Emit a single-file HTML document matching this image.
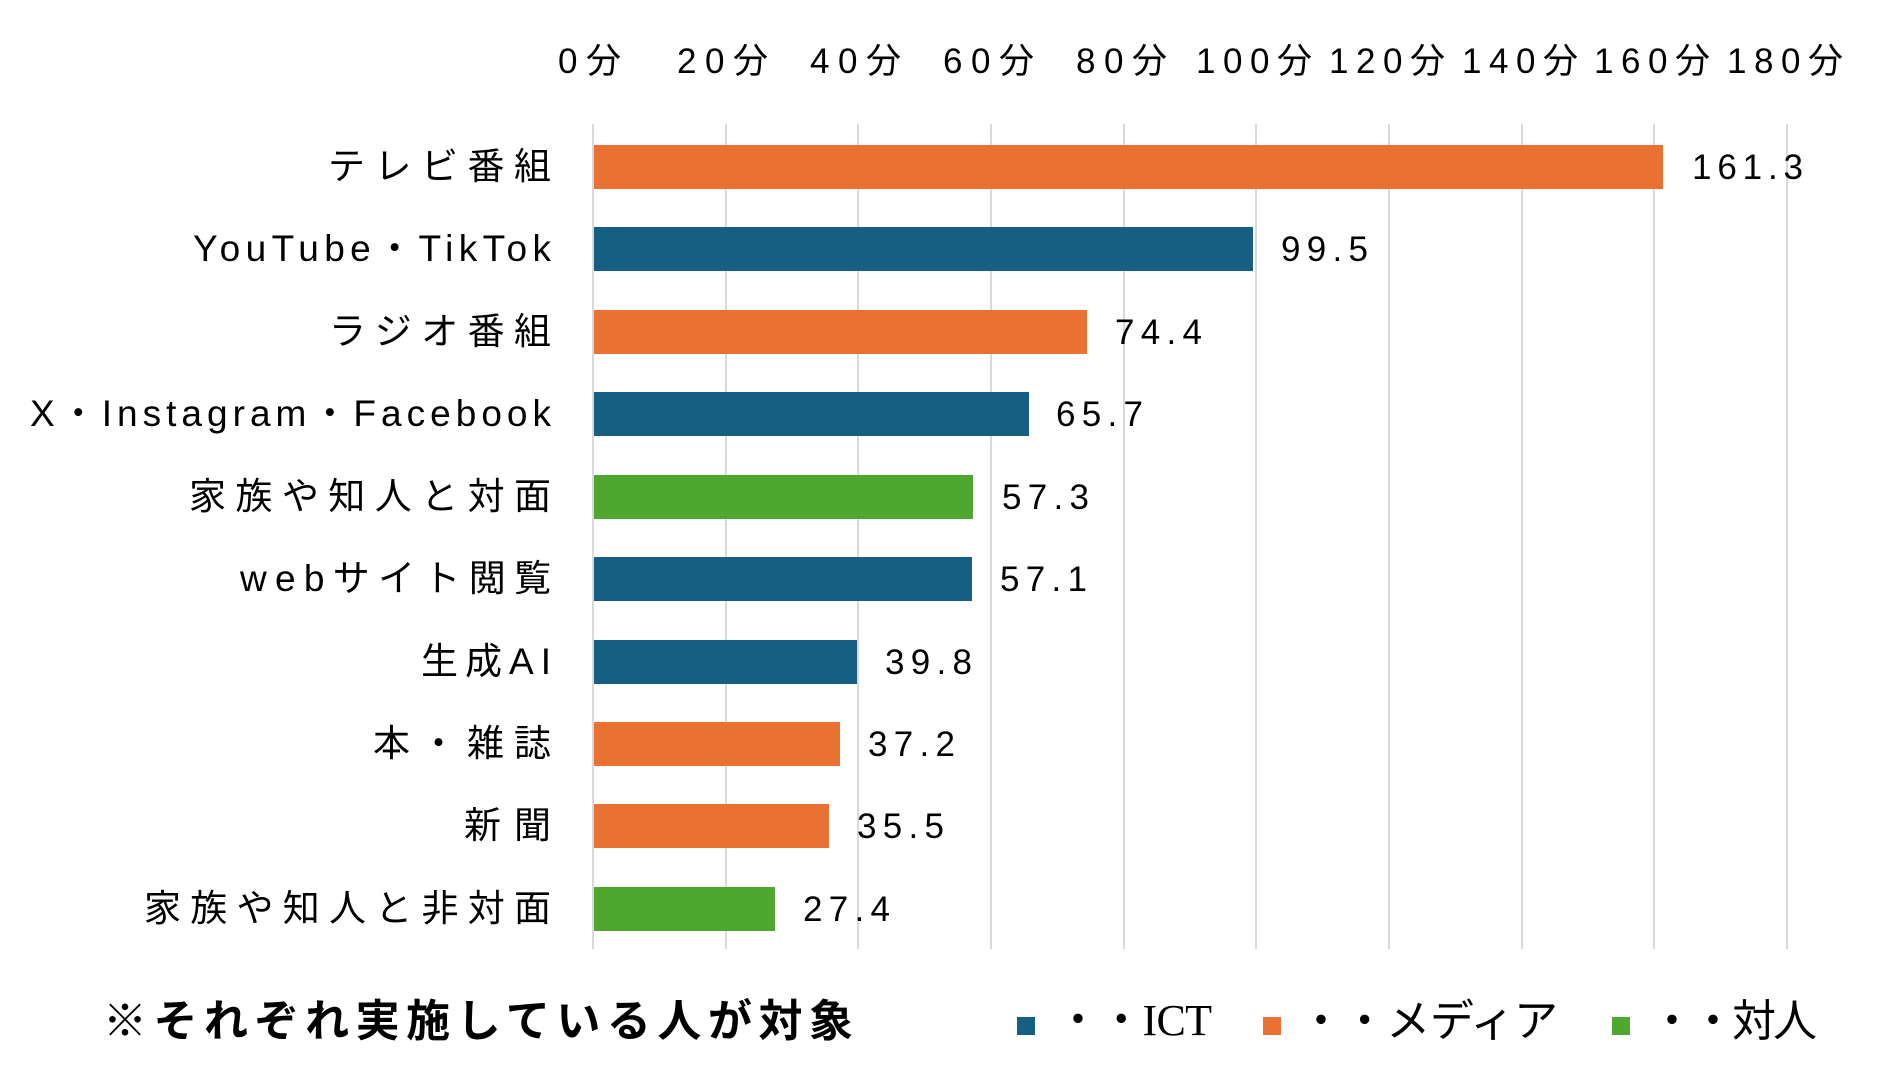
<!DOCTYPE html>
<html><head><meta charset="utf-8"><style>
html,body{margin:0;padding:0;background:#fff;}
svg{display:block;}
text{font-family:"Liberation Sans","Noto Sans CJK JP",sans-serif;fill:#000;}
</style></head><body>
<svg width="1890" height="1076" viewBox="0 0 1890 1076" xmlns="http://www.w3.org/2000/svg">
<g stroke="#d9d9d9" stroke-width="2">
<line x1="593" y1="124" x2="593" y2="949"/><line x1="726" y1="124" x2="726" y2="949"/><line x1="858" y1="124" x2="858" y2="949"/><line x1="991" y1="124" x2="991" y2="949"/><line x1="1124" y1="124" x2="1124" y2="949"/><line x1="1256" y1="124" x2="1256" y2="949"/><line x1="1389" y1="124" x2="1389" y2="949"/><line x1="1522" y1="124" x2="1522" y2="949"/><line x1="1654" y1="124" x2="1654" y2="949"/><line x1="1787" y1="124" x2="1787" y2="949"/>
</g>
<g font-size="35">
<text x="558" y="73" textLength="63" lengthAdjust="spacing">0分</text>
<text x="677" y="73" textLength="91" lengthAdjust="spacing">20分</text>
<text x="810" y="73" textLength="91" lengthAdjust="spacing">40分</text>
<text x="943" y="73" textLength="91" lengthAdjust="spacing">60分</text>
<text x="1076" y="73" textLength="91" lengthAdjust="spacing">80分</text>
<text x="1196" y="73" textLength="116" lengthAdjust="spacing">100分</text>
<text x="1329" y="73" textLength="116" lengthAdjust="spacing">120分</text>
<text x="1462" y="73" textLength="116" lengthAdjust="spacing">140分</text>
<text x="1594" y="73" textLength="116" lengthAdjust="spacing">160分</text>
<text x="1727" y="73" textLength="116" lengthAdjust="spacing">180分</text>
</g>
<g>
<rect x="594" y="145" width="1069" height="44" fill="#E97132"/>
<rect x="594" y="227" width="659" height="44" fill="#156082"/>
<rect x="594" y="310" width="493" height="44" fill="#E97132"/>
<rect x="594" y="392" width="435" height="44" fill="#156082"/>
<rect x="594" y="475" width="379" height="44" fill="#4EA72E"/>
<rect x="594" y="557" width="378" height="44" fill="#156082"/>
<rect x="594" y="640" width="263" height="44" fill="#156082"/>
<rect x="594" y="722" width="246" height="44" fill="#E97132"/>
<rect x="594" y="804" width="235" height="44" fill="#E97132"/>
<rect x="594" y="887" width="181" height="44" fill="#4EA72E"/>
</g>
<g font-size="35">
<text x="1692" y="179" textLength="111" lengthAdjust="spacing">161.3</text>
<text x="1281" y="261" textLength="87" lengthAdjust="spacing">99.5</text>
<text x="1115" y="344" textLength="87" lengthAdjust="spacing">74.4</text>
<text x="1056" y="426" textLength="87" lengthAdjust="spacing">65.7</text>
<text x="1002" y="509" textLength="87" lengthAdjust="spacing">57.3</text>
<text x="1000" y="591" textLength="87" lengthAdjust="spacing">57.1</text>
<text x="885" y="674" textLength="87" lengthAdjust="spacing">39.8</text>
<text x="868" y="756" textLength="87" lengthAdjust="spacing">37.2</text>
<text x="857" y="838" textLength="87" lengthAdjust="spacing">35.5</text>
<text x="803" y="921" textLength="87" lengthAdjust="spacing">27.4</text>
</g>
<g font-size="37">
<text x="328" y="179" textLength="223" lengthAdjust="spacing">テレビ番組</text>
<text x="193" y="261" textLength="358" lengthAdjust="spacing">YouTube・TikTok</text>
<text x="329" y="344" textLength="222" lengthAdjust="spacing">ラジオ番組</text>
<text x="30" y="426" textLength="521" lengthAdjust="spacing">X・Instagram・Facebook</text>
<text x="189" y="509" textLength="362" lengthAdjust="spacing">家族や知人と対面</text>
<text x="240" y="591" textLength="311" lengthAdjust="spacing">webサイト閲覧</text>
<text x="421" y="674" textLength="130" lengthAdjust="spacing">生成AI</text>
<text x="373" y="756" textLength="178" lengthAdjust="spacing">本・雑誌</text>
<text x="464" y="838" textLength="87" lengthAdjust="spacing">新聞</text>
<text x="144" y="921" textLength="407" lengthAdjust="spacing">家族や知人と非対面</text>
</g>
<text x="103" y="1036" font-size="44" font-weight="bold" textLength="750" lengthAdjust="spacing">※それぞれ実施している人が対象</text>
<rect x="1017" y="1017" width="18" height="18" fill="#156082"/>
<text x="1056" y="1035" font-size="44" textLength="156" lengthAdjust="spacing" style="font-family:'Liberation Serif','Noto Sans CJK JP',serif">・・ICT</text>
<rect x="1263" y="1017" width="18" height="18" fill="#E97132"/>
<text x="1299" y="1036" font-size="44" textLength="259" lengthAdjust="spacing">・・メディア</text>
<rect x="1612" y="1017" width="18" height="18" fill="#4EA72E"/>
<text x="1650" y="1036" font-size="44" textLength="167" lengthAdjust="spacing">・・対人</text>
</svg>
</body></html>
